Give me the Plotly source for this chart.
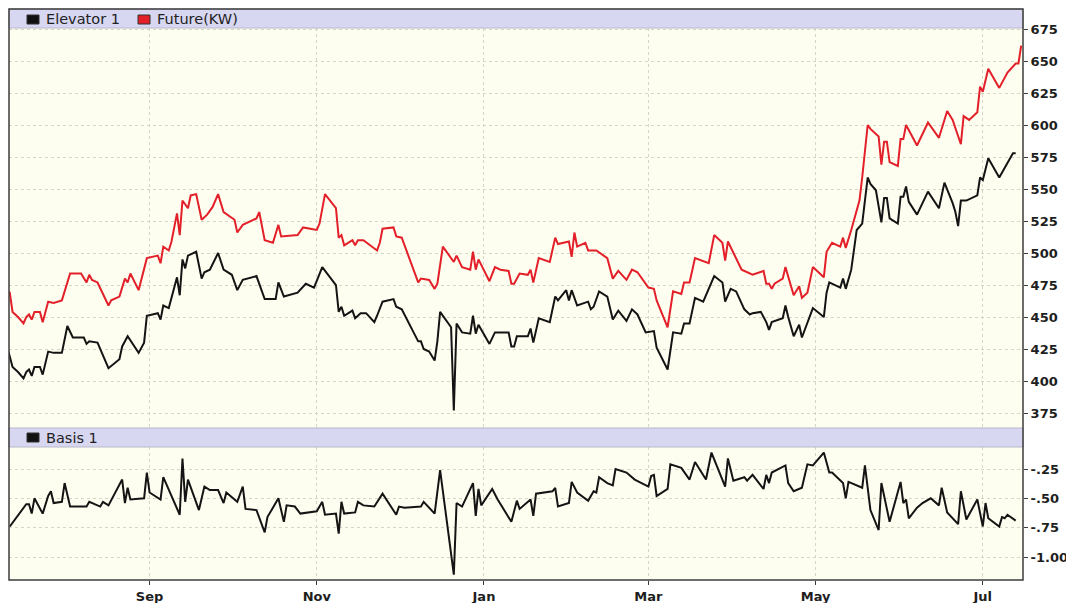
"""Elevator vs. futures cash price chart with basis sub-panel (Plotly)."""

import plotly.graph_objects as go

# ── data ──

elev_dates = [
    "2007-07-11", "2007-07-13", "2007-07-15", "2007-07-17", "2007-07-18", "2007-07-19", "2007-07-20",
    "2007-07-21", "2007-07-23", "2007-07-24", "2007-07-26", "2007-07-28", "2007-07-31", "2007-08-02",
    "2007-08-04", "2007-08-08", "2007-08-09", "2007-08-10", "2007-08-13", "2007-08-17", "2007-08-21",
    "2007-08-22", "2007-08-24", "2007-08-28", "2007-08-30", "2007-08-31", "2007-09-04", "2007-09-05",
    "2007-09-06", "2007-09-08", "2007-09-11", "2007-09-12", "2007-09-13", "2007-09-14", "2007-09-15",
    "2007-09-18", "2007-09-20", "2007-09-21", "2007-09-23", "2007-09-26", "2007-09-28", "2007-10-01",
    "2007-10-03", "2007-10-05", "2007-10-10", "2007-10-13", "2007-10-17", "2007-10-18", "2007-10-20",
    "2007-10-25", "2007-10-28", "2007-10-31", "2007-11-03", "2007-11-05", "2007-11-08", "2007-11-09",
    "2007-11-10", "2007-11-11", "2007-11-14", "2007-11-15", "2007-11-17", "2007-11-19", "2007-11-22",
    "2007-11-23", "2007-11-25", "2007-11-29", "2007-11-30", "2007-12-02", "2007-12-08", "2007-12-09",
    "2007-12-10", "2007-12-12", "2007-12-14", "2007-12-15", "2007-12-16", "2007-12-20", "2007-12-21",
    "2007-12-22", "2007-12-24", "2007-12-27", "2007-12-28", "2007-12-29", "2007-12-30", "2008-01-03",
    "2008-01-05", "2008-01-10", "2008-01-11", "2008-01-12", "2008-01-13", "2008-01-17", "2008-01-18",
    "2008-01-19", "2008-01-21", "2008-01-25", "2008-01-27", "2008-01-28", "2008-01-31", "2008-02-01",
    "2008-02-02", "2008-02-04", "2008-02-08", "2008-02-09", "2008-02-10", "2008-02-12", "2008-02-15",
    "2008-02-17", "2008-02-19", "2008-02-22", "2008-02-24", "2008-02-26", "2008-02-29", "2008-03-03",
    "2008-03-04", "2008-03-08", "2008-03-10", "2008-03-13", "2008-03-14", "2008-03-16", "2008-03-18",
    "2008-03-21", "2008-03-25", "2008-03-28", "2008-03-29", "2008-03-31", "2008-04-02", "2008-04-05",
    "2008-04-07", "2008-04-08", "2008-04-11", "2008-04-13", "2008-04-14", "2008-04-15", "2008-04-19",
    "2008-04-20", "2008-04-21", "2008-04-23", "2008-04-25", "2008-04-26", "2008-04-30", "2008-05-04",
    "2008-05-05", "2008-05-06", "2008-05-10", "2008-05-11", "2008-05-12", "2008-05-14", "2008-05-16",
    "2008-05-18", "2008-05-20", "2008-05-21", "2008-05-23", "2008-05-25", "2008-05-26", "2008-05-27",
    "2008-05-28", "2008-05-31", "2008-06-01", "2008-06-02", "2008-06-03", "2008-06-04", "2008-06-07",
    "2008-06-11", "2008-06-15", "2008-06-17", "2008-06-20", "2008-06-21", "2008-06-22", "2008-06-23",
    "2008-06-25", "2008-06-29", "2008-06-30", "2008-07-01", "2008-07-03", "2008-07-07", "2008-07-09",
    "2008-07-12", "2008-07-13",
]
elev_values = [
    427, 411, 407, 402, 407, 409, 404,
    411, 411, 405, 423, 422, 422, 443,
    434, 434, 429, 431, 430, 410, 417,
    427, 435, 422, 430, 451, 453, 448,
    459, 457, 481, 467, 495, 488, 498,
    501, 480, 485, 487, 500, 487, 483,
    471, 479, 482, 464, 464, 477, 466,
    469, 476, 473, 489, 483, 475, 454,
    458, 451, 455, 449, 453, 453, 446,
    451, 462, 464, 458, 456, 431, 431,
    425, 423, 416, 431, 454, 442, 377,
    445, 438, 437, 451, 437, 444, 429,
    438, 438, 427, 427, 435, 435, 441,
    430, 449, 446, 466, 463, 471, 463,
    471, 459, 462, 456, 458, 470, 466,
    448, 455, 447, 456, 452, 438, 439,
    426, 409, 438, 437, 445, 445, 465,
    462, 482, 477, 462, 472, 470, 456,
    452, 453, 454, 446, 440, 446, 449,
    459, 450, 435, 444, 434, 457, 450,
    469, 477, 473, 480, 472, 487, 518,
    523, 559, 554, 549, 524, 543, 543,
    527, 523, 544, 544, 552, 540, 530,
    548, 535, 555, 539, 532, 521, 541,
    541, 545, 559, 557, 574, 559, 567,
    578, 578,
]

fut_dates = [
    "2007-07-11", "2007-07-12", "2007-07-13", "2007-07-15", "2007-07-17", "2007-07-18", "2007-07-19",
    "2007-07-20", "2007-07-21", "2007-07-23", "2007-07-24", "2007-07-26", "2007-07-28", "2007-07-31",
    "2007-08-03", "2007-08-07", "2007-08-09", "2007-08-10", "2007-08-11", "2007-08-13", "2007-08-17",
    "2007-08-18", "2007-08-21", "2007-08-23", "2007-08-24", "2007-08-25", "2007-08-28", "2007-08-29",
    "2007-08-31", "2007-09-04", "2007-09-05", "2007-09-06", "2007-09-08", "2007-09-09", "2007-09-11",
    "2007-09-12", "2007-09-13", "2007-09-15", "2007-09-16", "2007-09-18", "2007-09-20", "2007-09-22",
    "2007-09-24", "2007-09-26", "2007-09-28", "2007-10-02", "2007-10-03", "2007-10-05", "2007-10-10",
    "2007-10-11", "2007-10-13", "2007-10-16", "2007-10-18", "2007-10-19", "2007-10-25", "2007-10-27",
    "2007-11-01", "2007-11-02", "2007-11-04", "2007-11-08", "2007-11-09", "2007-11-10", "2007-11-11",
    "2007-11-14", "2007-11-15", "2007-11-16", "2007-11-18", "2007-11-23", "2007-11-24", "2007-11-25",
    "2007-11-29", "2007-11-30", "2007-12-02", "2007-12-08", "2007-12-09", "2007-12-12", "2007-12-14",
    "2007-12-15", "2007-12-17", "2007-12-21", "2007-12-22", "2007-12-24", "2007-12-27", "2007-12-28",
    "2007-12-29", "2007-12-30", "2008-01-03", "2008-01-05", "2008-01-07", "2008-01-10", "2008-01-11",
    "2008-01-12", "2008-01-14", "2008-01-17", "2008-01-18", "2008-01-19", "2008-01-21", "2008-01-25",
    "2008-01-27", "2008-01-28", "2008-02-01", "2008-02-02", "2008-02-03", "2008-02-04", "2008-02-07",
    "2008-02-08", "2008-02-11", "2008-02-15", "2008-02-17", "2008-02-19", "2008-02-22", "2008-02-24",
    "2008-02-26", "2008-03-01", "2008-03-03", "2008-03-04", "2008-03-08", "2008-03-10", "2008-03-13",
    "2008-03-14", "2008-03-16", "2008-03-18", "2008-03-23", "2008-03-25", "2008-03-28", "2008-03-29",
    "2008-03-30", "2008-04-04", "2008-04-06", "2008-04-08", "2008-04-12", "2008-04-13", "2008-04-14",
    "2008-04-15", "2008-04-16", "2008-04-19", "2008-04-20", "2008-04-21", "2008-04-23", "2008-04-25",
    "2008-04-26", "2008-04-28", "2008-04-30", "2008-05-04", "2008-05-05", "2008-05-07", "2008-05-10",
    "2008-05-11", "2008-05-12", "2008-05-14", "2008-05-17", "2008-05-18", "2008-05-20", "2008-05-21",
    "2008-05-24", "2008-05-25", "2008-05-26", "2008-05-27", "2008-05-28", "2008-05-31", "2008-06-01",
    "2008-06-02", "2008-06-03", "2008-06-07", "2008-06-11", "2008-06-15", "2008-06-18", "2008-06-20",
    "2008-06-23", "2008-06-24", "2008-06-26", "2008-06-29", "2008-06-30", "2008-07-01", "2008-07-03",
    "2008-07-07", "2008-07-10", "2008-07-13", "2008-07-14", "2008-07-15",
]
fut_values = [
    471, 469, 454, 450, 445, 450, 452,
    448, 454, 454, 446, 462, 461, 463,
    484, 484, 477, 483, 479, 477, 459,
    463, 466, 480, 477, 484, 471, 480,
    496, 498, 492, 505, 502, 509, 531,
    514, 541, 535, 545, 546, 526, 530,
    536, 546, 532, 526, 516, 522, 527,
    532, 510, 508, 522, 513, 514, 520,
    518, 523, 546, 535, 512, 514, 506,
    510, 506, 510, 510, 502, 508, 519,
    520, 513, 512, 477, 480, 479, 472,
    476, 505, 493, 498, 489, 487, 501,
    487, 495, 478, 489, 487, 486, 476,
    476, 484, 483, 487, 477, 496, 493,
    512, 507, 509, 497, 516, 505, 508,
    502, 502, 496, 480, 486, 479, 487,
    485, 473, 472, 463, 442, 470, 468,
    477, 477, 496, 492, 514, 508, 494,
    509, 487, 485, 483, 486, 476, 476,
    472, 476, 480, 489, 481, 467, 474,
    465, 469, 489, 481, 501, 508, 505,
    512, 504, 518, 541, 559, 600, 597,
    591, 569, 587, 587, 571, 568, 589,
    589, 600, 584, 602, 590, 611, 604,
    585, 607, 604, 610, 630, 626, 644,
    629, 641, 648, 648, 662,
]

basis_dates = [
    "2007-07-12", "2007-07-15", "2007-07-18", "2007-07-19", "2007-07-20", "2007-07-21", "2007-07-24",
    "2007-07-26", "2007-07-27", "2007-07-28", "2007-07-31", "2007-08-01", "2007-08-03", "2007-08-09",
    "2007-08-10", "2007-08-14", "2007-08-15", "2007-08-17", "2007-08-22", "2007-08-23", "2007-08-24",
    "2007-08-25", "2007-08-30", "2007-08-31", "2007-09-01", "2007-09-05", "2007-09-06", "2007-09-12",
    "2007-09-13", "2007-09-14", "2007-09-15", "2007-09-19", "2007-09-21", "2007-09-23", "2007-09-26",
    "2007-09-28", "2007-09-29", "2007-10-03", "2007-10-05", "2007-10-06", "2007-10-10", "2007-10-13",
    "2007-10-14", "2007-10-18", "2007-10-20", "2007-10-21", "2007-10-24", "2007-10-26", "2007-11-01",
    "2007-11-03", "2007-11-04", "2007-11-08", "2007-11-09", "2007-11-10", "2007-11-11", "2007-11-15",
    "2007-11-16", "2007-11-18", "2007-11-22", "2007-11-25", "2007-11-30", "2007-12-01", "2007-12-03",
    "2007-12-09", "2007-12-10", "2007-12-14", "2007-12-16", "2007-12-21", "2007-12-22", "2007-12-24",
    "2007-12-28", "2007-12-29", "2007-12-30", "2007-12-31", "2008-01-04", "2008-01-06", "2008-01-11",
    "2008-01-13", "2008-01-14", "2008-01-18", "2008-01-19", "2008-01-20", "2008-01-26", "2008-01-27",
    "2008-01-28", "2008-02-01", "2008-02-02", "2008-02-04", "2008-02-08", "2008-02-10", "2008-02-11",
    "2008-02-12", "2008-02-15", "2008-02-17", "2008-02-18", "2008-02-22", "2008-02-25", "2008-03-01",
    "2008-03-02", "2008-03-03", "2008-03-04", "2008-03-08", "2008-03-09", "2008-03-13", "2008-03-16",
    "2008-03-18", "2008-03-22", "2008-03-24", "2008-03-29", "2008-03-30", "2008-04-01", "2008-04-05",
    "2008-04-06", "2008-04-08", "2008-04-12", "2008-04-13", "2008-04-14", "2008-04-15", "2008-04-20",
    "2008-04-21", "2008-04-23", "2008-04-26", "2008-04-28", "2008-04-30", "2008-05-04", "2008-05-06",
    "2008-05-07", "2008-05-11", "2008-05-12", "2008-05-13", "2008-05-18", "2008-05-19", "2008-05-21",
    "2008-05-24", "2008-05-25", "2008-05-28", "2008-06-01", "2008-06-02", "2008-06-03", "2008-06-04",
    "2008-06-07", "2008-06-09", "2008-06-12", "2008-06-15", "2008-06-16", "2008-06-18", "2008-06-22",
    "2008-06-23", "2008-06-25", "2008-06-29", "2008-07-01", "2008-07-02", "2008-07-03", "2008-07-07",
    "2008-07-08", "2008-07-09", "2008-07-10", "2008-07-13",
]
basis_values = [
    -0.74, -0.64, -0.55, -0.55, -0.63, -0.50, -0.63,
    -0.48, -0.44, -0.54, -0.53, -0.37, -0.57, -0.57,
    -0.53, -0.57, -0.53, -0.56, -0.34, -0.54, -0.41,
    -0.51, -0.50, -0.28, -0.45, -0.51, -0.32, -0.64,
    -0.16, -0.53, -0.34, -0.60, -0.40, -0.43, -0.43,
    -0.54, -0.45, -0.53, -0.40, -0.59, -0.60, -0.79,
    -0.66, -0.50, -0.70, -0.56, -0.57, -0.63, -0.61,
    -0.53, -0.64, -0.63, -0.80, -0.53, -0.63, -0.62,
    -0.53, -0.56, -0.57, -0.46, -0.64, -0.57, -0.58,
    -0.57, -0.53, -0.63, -0.26, -1.15, -0.54, -0.57,
    -0.37, -0.65, -0.42, -0.56, -0.42, -0.51, -0.70,
    -0.52, -0.59, -0.51, -0.65, -0.46, -0.44, -0.41,
    -0.57, -0.54, -0.36, -0.45, -0.52, -0.44, -0.45,
    -0.32, -0.37, -0.39, -0.25, -0.28, -0.34, -0.40,
    -0.31, -0.30, -0.48, -0.42, -0.21, -0.24, -0.34,
    -0.19, -0.34, -0.11, -0.40, -0.16, -0.35, -0.32,
    -0.35, -0.30, -0.42, -0.30, -0.37, -0.28, -0.22,
    -0.37, -0.44, -0.41, -0.21, -0.22, -0.11, -0.28,
    -0.28, -0.37, -0.50, -0.36, -0.41, -0.22, -0.60,
    -0.77, -0.37, -0.70, -0.36, -0.54, -0.51, -0.67,
    -0.58, -0.54, -0.50, -0.56, -0.41, -0.62, -0.72,
    -0.44, -0.68, -0.51, -0.74, -0.54, -0.67, -0.74,
    -0.66, -0.67, -0.64, -0.69,
]

month_ticks = ["2007-09-01", "2007-11-01", "2008-01-01", "2008-03-01", "2008-05-01", "2008-07-01"]
month_labels = ["Sep", "Nov", "Jan", "Mar", "May", "Jul"]
price_ticks = [375, 400, 425, 450, 475, 500, 525, 550, 575, 600, 625, 650, 675]
basis_ticks = [-1.00, -0.75, -0.50, -0.25]
basis_labels = ["-1.00", "-.75", "-.50", "-.25"]

# ── style ──

# the page body adds an 8px margin, so the figure is sized 8px smaller
# and all layout positions below are given in page pixels
BODY = 8
W, H = 1074 - BODY, 603 - BODY
LEFT, RIGHT, TOP, BOTTOM = 9, 1023, 9, 580  # plot frame, page pixels
ML, MR = LEFT - BODY, W - (RIGHT - BODY)
MT, MB = TOP - BODY, H - (BOTTOM - BODY)

PLOT_BG = "#FEFEF0"
HEADER_BG = "#D7D7F1"
FRAME = "#3c3c3c"
GRID = "#D6D6C6"
FONT = "DejaVu Sans"
TICK_FONT = dict(family=FONT, size=13, color="#1e1e1e", weight="bold")


def _px(x):
    """page pixel x → paper fraction."""
    return (x - LEFT) / (RIGHT - LEFT)


def _py(y):
    """page pixel y → paper fraction."""
    return (BOTTOM - y) / (BOTTOM - TOP)


fig = go.Figure()
fig.add_trace(go.Scatter(x=elev_dates, y=elev_values, mode="lines", name="Elevator 1",
                         line=dict(color="#141414", width=2), xaxis="x", yaxis="y"))
fig.add_trace(go.Scatter(x=fut_dates, y=fut_values, mode="lines", name="Future(KW)",
                         line=dict(color="#E3202A", width=2), xaxis="x", yaxis="y"))
fig.add_trace(go.Scatter(x=basis_dates, y=basis_values, mode="lines", name="Basis 1",
                         line=dict(color="#141414", width=2), xaxis="x2", yaxis="y2"))

x_range = ["2007-07-11 17:00", "2008-07-15 16:00"]
grid = dict(showgrid=True, gridcolor=GRID, gridwidth=1, griddash="3px,3px", zeroline=False,
            automargin=False)

fig.update_layout(
    width=W, height=H,
    margin=dict(l=ML, r=MR, t=MT, b=MB, pad=0, autoexpand=False),
    paper_bgcolor="white",
    plot_bgcolor=PLOT_BG,
    showlegend=False,
    font=dict(family=FONT, color="#1e1e1e"),
    xaxis=dict(domain=[0, 1], anchor="y", type="date", range=x_range, tickvals=month_ticks,
               showticklabels=False, ticks="", **grid),
    xaxis2=dict(domain=[0, 1], anchor="y2", type="date", range=x_range, tickvals=month_ticks,
                ticktext=month_labels, ticks="outside", ticklen=4, tickcolor=FRAME,
                tickfont=TICK_FONT, **grid),
    yaxis=dict(domain=[_py(428), _py(28)], anchor="x", side="right", range=[363.3, 675.8],
               tickvals=price_ticks, ticks="outside", ticklen=4, tickcolor=FRAME,
               tickfont=TICK_FONT, **grid),
    yaxis2=dict(domain=[0, _py(447)], anchor="x2", side="right", range=[-1.196, -0.0625],
                tickvals=basis_ticks, ticktext=basis_labels, ticks="outside", ticklen=4,
                tickcolor=FRAME, tickfont=TICK_FONT, **grid),
)

shapes = [
    # header strips
    dict(type="rect", xref="paper", yref="paper", x0=0, x1=1, y0=_py(28), y1=1,
         fillcolor=HEADER_BG, line=dict(color="#B8B8CC", width=1), layer="above"),
    dict(type="rect", xref="paper", yref="paper", x0=0, x1=1, y0=_py(447), y1=_py(428),
         fillcolor=HEADER_BG, line=dict(color="#B8B8CC", width=1), layer="above"),
    # outer frame
    dict(type="rect", xref="paper", yref="paper", x0=0, x1=1, y0=0, y1=1,
         line=dict(color=FRAME, width=1.5), layer="above"),
]

legend_items = [
    (27, 15, "#111111", "Elevator 1"),
    (138, 15, "#E3202A", "Future(KW)"),
    (27, 433, "#111111", "Basis 1"),
]
annotations = []
for x, y, color, label in legend_items:
    shapes.append(dict(type="rect", xref="paper", yref="paper",
                       x0=_px(x), x1=_px(x + 12), y0=_py(y + 9), y1=_py(y),
                       fillcolor=color, line=dict(color="#333333", width=1), layer="above"))
    annotations.append(dict(xref="paper", yref="paper", x=_px(x + 17), y=_py(y + 4.5),
                            xanchor="left", yanchor="middle", showarrow=False, text=label,
                            font=dict(family=FONT, size=14.5, color="#222222")))

fig.update_layout(shapes=shapes, annotations=annotations)

fig.write_html("out.html")
